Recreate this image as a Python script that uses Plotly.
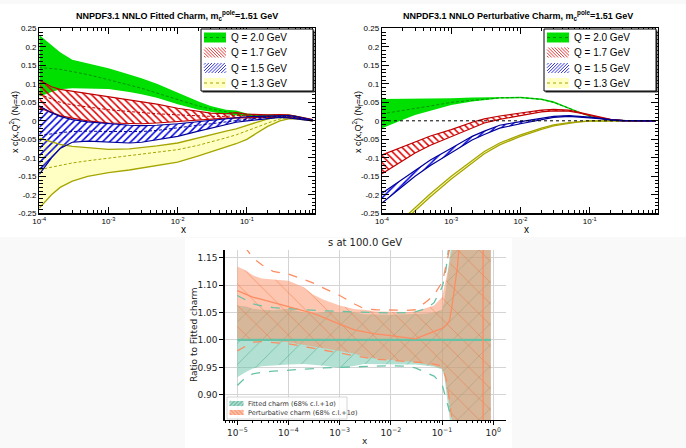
import plotly.graph_objects as go

W, H = 686, 448

# ---------------- data: top panels (x c(x,Q^2)) ----------------
X_TOP = [1e-4, 1.5e-4, 2e-4, 3e-4, 5e-4, 1e-3, 2e-3, 3e-3, 5e-3, 1e-2, 2e-2, 3e-2,
         5e-2, 7e-2, 0.1, 0.15, 0.2, 0.3, 0.4, 0.5, 0.7, 0.9]

# Fitted charm
FIT_20_HI = [0.232, 0.205, 0.185, 0.165, 0.155, 0.142, 0.125, 0.115, 0.100, 0.075, 0.052, 0.040,
             0.030, 0.028, 0.020, 0.017, 0.017, 0.018, 0.017, 0.014, 0.008, 0.004]
FIT_20_MID = [0.144, 0.142, 0.139, 0.133, 0.125, 0.111, 0.097, 0.088, 0.075, 0.057, 0.040, 0.032,
              0.024, 0.020, 0.016, 0.013, 0.013, 0.014, 0.013, 0.010, 0.005, 0.002]
FIT_20_LO = [0.066, 0.078, 0.085, 0.088, 0.088, 0.086, 0.078, 0.072, 0.062, 0.045, 0.030, 0.024,
             0.018, 0.014, 0.012, 0.010, 0.010, 0.011, 0.010, 0.008, 0.003, 0.000]

FIT_17_HI = [0.110, 0.092, 0.085, 0.080, 0.075, 0.066, 0.058, 0.053, 0.045, 0.034, 0.025, 0.021,
             0.019, 0.022, 0.018, 0.016, 0.016, 0.017, 0.016, 0.013, 0.007, 0.003]
FIT_17_MID = [0.072, 0.058, 0.050, 0.043, 0.037, 0.030, 0.025, 0.022, 0.019, 0.016, 0.013, 0.012,
              0.012, 0.014, 0.013, 0.012, 0.012, 0.013, 0.012, 0.010, 0.005, 0.002]
FIT_17_LO = [0.035, 0.022, 0.014, 0.007, 0.000, -0.006, -0.008, -0.008, -0.006, -0.002, 0.003, 0.005,
             0.007, 0.008, 0.009, 0.009, 0.009, 0.010, 0.009, 0.007, 0.003, 0.000]

FIT_15_HI = [0.040, 0.022, 0.012, 0.003, -0.003, -0.008, -0.012, -0.013, -0.012, -0.008, -0.002, 0.002,
             0.006, 0.009, 0.011, 0.012, 0.013, 0.015, 0.014, 0.012, 0.006, 0.002]
FIT_15_MID = [-0.040, -0.035, -0.032, -0.029, -0.028, -0.029, -0.030, -0.029, -0.026, -0.020, -0.012, -0.008,
              -0.003, 0.002, 0.005, 0.008, 0.010, 0.012, 0.011, 0.009, 0.004, 0.001]
FIT_15_LO = [-0.145, -0.100, -0.075, -0.058, -0.055, -0.058, -0.060, -0.058, -0.052, -0.042, -0.028, -0.020,
             -0.010, -0.004, 0.000, 0.004, 0.006, 0.009, 0.008, 0.006, 0.002, 0.000]

FIT_13_HI = [-0.047, -0.058, -0.064, -0.069, -0.073, -0.077, -0.076, -0.073, -0.068, -0.060, -0.046, -0.037,
             -0.028, -0.022, -0.012, -0.002, 0.005, 0.012, 0.014, 0.012, 0.006, 0.002]
FIT_13_MID = [-0.132, -0.125, -0.120, -0.114, -0.108, -0.101, -0.095, -0.091, -0.086, -0.078, -0.066, -0.058,
              -0.046, -0.038, -0.028, -0.015, -0.006, 0.005, 0.009, 0.008, 0.004, 0.001]
FIT_13_LO = [-0.236, -0.200, -0.180, -0.163, -0.150, -0.140, -0.133, -0.128, -0.122, -0.112, -0.095, -0.085,
             -0.072, -0.062, -0.050, -0.030, -0.015, 0.000, 0.005, 0.005, 0.002, 0.000]

# Perturbative charm
PT_20_HI = [0.059, 0.059, 0.059, 0.059, 0.060, 0.061, 0.063, 0.064, 0.065, 0.065, 0.060, 0.053,
            0.036, 0.025, 0.013, 0.006, 0.003, 0.001, 0.000, 0.000, 0.000, 0.000]
PT_20_MID = [0.019, 0.024, 0.028, 0.032, 0.040, 0.050, 0.056, 0.059, 0.062, 0.063, 0.058, 0.050,
             0.034, 0.023, 0.012, 0.005, 0.003, 0.001, 0.000, 0.000, 0.000, 0.000]
PT_20_LO = [-0.020, -0.007, 0.003, 0.016, 0.028, 0.043, 0.052, 0.056, 0.060, 0.061, 0.056, 0.048,
            0.032, 0.022, 0.011, 0.005, 0.002, 0.000, 0.000, 0.000, 0.000, 0.000]

PT_17_HI = [-0.092, -0.079, -0.069, -0.056, -0.041, -0.024, -0.004, 0.005, 0.013, 0.021, 0.029, 0.031,
            0.029, 0.023, 0.016, 0.008, 0.004, 0.001, 0.000, 0.000, 0.000, 0.000]
PT_17_LO = [-0.143, -0.122, -0.108, -0.087, -0.066, -0.042, -0.018, -0.006, 0.004, 0.014, 0.024, 0.027,
            0.026, 0.021, 0.014, 0.007, 0.003, 0.000, 0.000, 0.000, 0.000, 0.000]

PT_15_HI = [-0.196, -0.173, -0.156, -0.133, -0.106, -0.074, -0.042, -0.028, -0.012, -0.002, 0.008, 0.012,
            0.014, 0.013, 0.010, 0.006, 0.003, 0.001, 0.000, 0.000, 0.000, 0.000]
PT_15_LO = [-0.222, -0.195, -0.177, -0.150, -0.121, -0.087, -0.052, -0.037, -0.020, -0.008, 0.004, 0.009,
            0.012, 0.011, 0.008, 0.005, 0.002, 0.000, 0.000, 0.000, 0.000, 0.000]

PT_13_HI = [-0.317, -0.287, -0.266, -0.237, -0.197, -0.150, -0.108, -0.083, -0.060, -0.038, -0.020, -0.011,
            -0.005, -0.002, 0.000, 0.000, 0.000, 0.000, 0.000, 0.000, 0.000, 0.000]
PT_13_LO = [-0.325, -0.295, -0.274, -0.245, -0.205, -0.157, -0.114, -0.089, -0.065, -0.042, -0.023, -0.014,
            -0.007, -0.003, -0.001, 0.000, 0.000, 0.000, 0.000, 0.000, 0.000, 0.000]

TOP_YTICKS = [-0.25, -0.2, -0.15, -0.1, -0.05, 0, 0.05, 0.1, 0.15, 0.2, 0.25]
TOP_YTICK_LABELS = ["-0.25", "-0.2", "-0.15", "-0.1", "-0.05", "0", "0.05", "0.1", "0.15", "0.2", "0.25"]
TOP_XTICKS = [1e-4, 1e-3, 1e-2, 1e-1]
TOP_XTICK_LABELS = ["10<sup>-4</sup>", "10<sup>-3</sup>", "10<sup>-2</sup>", "10<sup>-1</sup>"]
LEGEND_TOP = ["Q = 2.0 GeV", "Q = 1.7 GeV", "Q = 1.5 GeV", "Q = 1.3 GeV"]

# ---------------- data: bottom panel (ratio to fitted charm) ----------------
X_R = [1e-5, 1.5e-5, 2e-5, 3e-5, 5e-5, 1e-4, 2e-4, 3e-4, 5e-4, 1e-3, 2e-3, 3e-3, 5e-3, 1e-2,
       2e-2, 3e-2, 5e-2, 7e-2, 0.1, 0.11, 0.12, 0.14, 0.16, 0.2, 0.25, 0.3, 0.4, 0.5, 0.6, 0.7, 0.8, 0.9]

FC_HI = [1.063, 1.061, 1.057, 1.055, 1.054, 1.057, 1.050, 1.048, 1.051, 1.051, 1.050, 1.047, 1.046, 1.046,
         1.047, 1.047, 1.048, 1.050, 1.055, 1.070, 1.095, 1.150, 1.200, 1.30, 1.40, 1.50, 1.6, 1.6, 1.6, 1.6, 1.6, 1.6]
FC_LO = [0.932, 0.942, 0.948, 0.952, 0.954, 0.955, 0.956, 0.955, 0.953, 0.949, 0.953, 0.956, 0.956, 0.955,
         0.955, 0.955, 0.953, 0.951, 0.946, 0.935, 0.910, 0.860, 0.800, 0.70, 0.60, 0.50, 0.4, 0.4, 0.4, 0.4, 0.4, 0.4]
FC_MID = [1.0] * len(X_R)
FC_SIG_HI = [1.081, 1.072, 1.066, 1.062, 1.059, 1.057, 1.055, 1.054, 1.053, 1.052, 1.051, 1.050, 1.049, 1.049,
             1.050, 1.051, 1.058, 1.068, 1.096, 1.110, 1.130, 1.170, 1.210, 1.30, 1.40, 1.50, 1.6, 1.6, 1.6, 1.6, 1.6, 1.6]
FC_SIG_LO = [0.917, 0.933, 0.938, 0.941, 0.943, 0.945, 0.947, 0.948, 0.949, 0.950, 0.951, 0.952, 0.953, 0.953,
             0.952, 0.949, 0.940, 0.934, 0.919, 0.905, 0.895, 0.870, 0.846, 0.75, 0.65, 0.55, 0.4, 0.4, 0.4, 0.4, 0.4, 0.4]

PC_HI = [1.134, 1.126, 1.118, 1.112, 1.110, 1.108, 1.096, 1.083, 1.073, 1.063, 1.056, 1.055, 1.052, 1.051,
         1.051, 1.052, 1.058, 1.063, 1.078, 1.095, 1.110, 1.140, 1.170, 1.25, 1.35, 1.45, 1.6, 1.6, 1.6, 1.6, 1.6, 1.6]
PC_LO = [1.003, 1.001, 1.000, 0.999, 0.998, 0.996, 0.992, 0.989, 0.985, 0.980, 0.975, 0.969, 0.966, 0.963,
         0.961, 0.960, 0.955, 0.953, 0.948, 0.940, 0.925, 0.885, 0.850, 0.78, 0.70, 0.60, 0.4, 0.4, 0.4, 0.4, 0.4, 0.4]
PC_SIG_HI = [1.200, 1.166, 1.150, 1.137, 1.125, 1.120, 1.110, 1.104, 1.094, 1.081, 1.065, 1.057, 1.055, 1.054,
             1.054, 1.055, 1.070, 1.082, 1.105, 1.120, 1.135, 1.165, 1.200, 1.30, 1.40, 1.50, 1.6, 1.6, 1.6, 1.6, 1.6, 1.6]
PC_SIG_LO = [0.980, 0.990, 0.996, 0.997, 0.995, 0.993, 0.988, 0.985, 0.980, 0.975, 0.970, 0.968, 0.965, 0.963,
             0.961, 0.960, 0.958, 0.956, 0.952, 0.940, 0.930, 0.890, 0.855, 0.78, 0.70, 0.60, 0.4, 0.4, 0.4, 0.4, 0.4, 0.4]

X_PC = [1e-5, 1.5e-5, 2e-5, 3e-5, 5e-5, 1e-4, 2e-4, 3e-4, 5e-4, 1e-3, 2e-3, 3e-3, 5e-3, 1e-2, 2e-2, 3e-2,
        5e-2, 7e-2, 0.1, 0.12, 0.14, 0.16, 0.18, 0.2, 0.22, 0.3, 0.5, 0.63, 0.64, 0.9]
PC_MID = [1.090, 1.083, 1.078, 1.074, 1.068, 1.060, 1.053, 1.049, 1.040, 1.029, 1.018, 1.015, 1.011, 1.008,
          1.004, 1.002, 1.010, 1.016, 1.021, 1.027, 1.035, 1.068, 1.098, 1.133, 1.180, 1.40, 1.90, 2.50, -0.50, 0.50]

R_YTICKS = [0.90, 0.95, 1.00, 1.05, 1.10, 1.15]
R_XTICKS = [1e-5, 1e-4, 1e-3, 1e-2, 1e-1, 1]
R_XTICK_LABELS = ["10<sup>−5</sup>", "10<sup>−4</sup>", "10<sup>−3</sup>", "10<sup>−2</sup>",
                  "10<sup>−1</sup>", "10<sup>0</sup>"]
LEGEND_R = ["Fitted charm (68% c.l.+1σ)", "Perturbative charm (68% c.l.+1σ)"]

# ---------------- styles ----------------
GREEN, GREEN_D = "#00e000", "#008f00"
RED, RED_D = "#e00000", "#c00000"
BLUE, BLUE_D = "#0000e0", "#000099"
YEL, YEL_D = "#ffffc4", "#a5a500"
TEAL, ORANGE = "#66c2a5", "#fc8d62"
ROOT_FONT = "Liberation Sans"
MPL_FONT = "DejaVu Sans"

fig = go.Figure()


def band(x, lo, hi, xa, ya, fillcolor="rgba(0,0,0,0)", pattern=None):
    xs = list(x) + list(x)[::-1]
    ys = list(hi) + list(lo)[::-1]
    kw = {}
    if pattern is not None:
        kw["fillpattern"] = pattern
    fig.add_trace(go.Scatter(x=xs, y=ys, xaxis=xa, yaxis=ya, mode="lines", fill="toself",
                             fillcolor=fillcolor, line=dict(width=0), hoverinfo="skip",
                             showlegend=False, **kw))


def curve(x, y, xa, ya, color, width=1.1, dash="solid"):
    fig.add_trace(go.Scatter(x=x, y=y, xaxis=xa, yaxis=ya, mode="lines",
                             line=dict(color=color, width=width, dash=dash),
                             hoverinfo="skip", showlegend=False))


red_pat = dict(shape="\\", fgcolor=RED, size=5, solidity=0.3, fillmode="replace")
blue_pat = dict(shape="/", fgcolor=BLUE, size=5, solidity=0.3, fillmode="replace")
TOP_DASH = "3px,2px"

# --- top-left: fitted charm ---
xa, ya = "x", "y"
band(X_TOP, FIT_20_LO, FIT_20_HI, xa, ya, GREEN)
band(X_TOP, FIT_13_LO, FIT_13_HI, xa, ya, YEL)
band(X_TOP, FIT_17_LO, FIT_17_HI, xa, ya, pattern=red_pat)
band(X_TOP, FIT_15_LO, FIT_15_HI, xa, ya, pattern=blue_pat)
curve(X_TOP, FIT_20_MID, xa, ya, GREEN_D, 1, TOP_DASH)
for arr in (FIT_13_HI, FIT_13_LO):
    curve(X_TOP, arr, xa, ya, YEL_D, 1.3)
curve(X_TOP, FIT_13_MID, xa, ya, YEL_D, 1, TOP_DASH)
for arr in (FIT_17_HI, FIT_17_LO):
    curve(X_TOP, arr, xa, ya, RED_D, 1.2)
curve(X_TOP, FIT_17_MID, xa, ya, RED_D, 1, TOP_DASH)
for arr in (FIT_15_HI, FIT_15_LO):
    curve(X_TOP, arr, xa, ya, BLUE_D, 1.2)
curve(X_TOP, FIT_15_MID, xa, ya, BLUE_D, 1, TOP_DASH)

# --- top-right: perturbative charm ---
xa, ya = "x2", "y2"
band(X_TOP, PT_20_LO, PT_20_HI, xa, ya, GREEN)
band(X_TOP, PT_13_LO, PT_13_HI, xa, ya, YEL)
band(X_TOP, PT_17_LO, PT_17_HI, xa, ya, pattern=red_pat)
band(X_TOP, PT_15_LO, PT_15_HI, xa, ya, pattern=blue_pat)
curve(X_TOP, PT_20_MID, xa, ya, GREEN_D, 1, TOP_DASH)
for arr in (PT_13_HI, PT_13_LO):
    curve(X_TOP, arr, xa, ya, YEL_D, 1.3)
for arr in (PT_17_HI, PT_17_LO):
    curve(X_TOP, arr, xa, ya, RED_D, 1.2)
for arr in (PT_15_HI, PT_15_LO):
    curve(X_TOP, arr, xa, ya, BLUE_D, 1.2)

# --- bottom: ratio ---
xa, ya = "x3", "y3"
band(X_R, FC_LO, FC_HI, xa, ya, pattern=dict(shape="/", bgcolor="rgba(102,194,165,0.5)",
                                             fgcolor="#3d9c7e", fgopacity=0.5, size=15,
                                             solidity=0.06, fillmode="overlay"))
band(X_R, PC_LO, PC_HI, xa, ya, pattern=dict(shape="\\", bgcolor="rgba(252,141,98,0.5)",
                                             fgcolor="#f06a35", fgopacity=0.5, size=15,
                                             solidity=0.06, fillmode="overlay"))
curve(X_R, FC_MID, xa, ya, TEAL, 2.2)
curve(X_R, FC_SIG_HI, xa, ya, TEAL, 1.3, "dash")
curve(X_R, FC_SIG_LO, xa, ya, TEAL, 1.3, "dash")
curve(X_PC, PC_MID, xa, ya, ORANGE, 1.3)
curve(X_R, PC_SIG_HI, xa, ya, ORANGE, 1.3, "dash")
curve(X_R, PC_SIG_LO, xa, ya, ORANGE, 1.3, "dash")

# ---------------- layout ----------------
def dom_x(a, b):
    return [a / W, b / W]


def dom_y(top, bottom):
    return [1 - bottom / H, 1 - top / H]


root_x = dict(type="log", range=[-4, -0.015], tickmode="array", tickvals=TOP_XTICKS,
              ticktext=TOP_XTICK_LABELS, automargin=False,
              showline=True, linecolor="black", linewidth=1.2, mirror="ticks",
              ticks="inside", ticklen=6, tickcolor="black", tickwidth=1,
              minor=dict(dtick="D1", ticks="inside", ticklen=3, tickcolor="black"),
              showgrid=False, zeroline=False,
              tickfont=dict(family=ROOT_FONT, size=8, color="black"))
root_y = dict(range=[-0.25, 0.25], tickmode="array", tickvals=TOP_YTICKS, ticktext=TOP_YTICK_LABELS,
              automargin=False,
              showline=True, linecolor="black", linewidth=1.2, mirror="ticks",
              ticks="inside", ticklen=7, tickcolor="black", tickwidth=1,
              minor=dict(tickmode="linear", tick0=0, dtick=0.01, ticks="inside", ticklen=3.5,
                         tickcolor="black"),
              showgrid=False, zeroline=False,
              tickfont=dict(family=ROOT_FONT, size=8, color="black"))

fig.update_layout(
    width=W, height=H, margin=dict(l=0, r=0, t=0, b=0, pad=0, autoexpand=False),
    paper_bgcolor="#f9f9f9", plot_bgcolor="rgba(0,0,0,0)", showlegend=False,
    xaxis=dict(root_x, domain=dom_x(39.3, 315), anchor="y"),
    yaxis=dict(root_y, domain=dom_y(28.3, 213.3), anchor="x"),
    xaxis2=dict(root_x, domain=dom_x(382, 658), anchor="y2"),
    yaxis2=dict(root_y, domain=dom_y(28.3, 213.3), anchor="x2"),
    xaxis3=dict(type="log", range=[-5.25, 0.25], tickmode="array", tickvals=R_XTICKS,
                ticktext=R_XTICK_LABELS, automargin=False,
                domain=dom_x(224.5, 506), anchor="y3",
                showline=True, linecolor="black", linewidth=1.2, mirror=False,
                ticks="outside", ticklen=4, tickcolor="black",
                minor=dict(dtick="D1", ticks="outside", ticklen=2, tickcolor="black", showgrid=False),
                showgrid=True, gridcolor="#d4d4d4", gridwidth=1, zeroline=False,
                tickfont=dict(family=MPL_FONT, size=9, color="#222")),
    yaxis3=dict(range=[0.854, 1.164], tickmode="array", tickvals=R_YTICKS,
                ticktext=[f"{v:.2f}" for v in R_YTICKS], automargin=False,
                domain=dom_y(250, 420), anchor="x3",
                showline=True, linecolor="black", linewidth=1.2, mirror=False,
                ticks="outside", ticklen=4, tickcolor="black",
                showgrid=True, gridcolor="#d4d4d4", gridwidth=1, zeroline=False,
                tickfont=dict(family=MPL_FONT, size=9, color="#222")),
)

shapes = []
annotations = []


def P(x, y):
    return x / W, 1 - y / H


def prect(x0, y0, x1, y1, **kw):
    a, b = P(x0, y0)
    c, d = P(x1, y1)
    shapes.append(dict(type="rect", xref="paper", yref="paper", x0=a, y0=b, x1=c, y1=d, **kw))


def pline(x0, y0, x1, y1, **kw):
    a, b = P(x0, y0)
    c, d = P(x1, y1)
    shapes.append(dict(type="line", xref="paper", yref="paper", x0=a, y0=b, x1=c, y1=d, **kw))


def hatch(x0, y0, x1, y1, spacing, direction, color, width=0.8):
    w, h = x1 - x0, y1 - y0
    parts = []
    c = -h + spacing / 2
    while c < w:
        us, ue = max(0, c), min(w, c + h)
        if ue > us:
            p1, p2 = (us, us - c), (ue, ue - c)
            if direction == "/":
                p1, p2 = (w - p1[0], p1[1]), (w - p2[0], p2[1])
            a = P(x0 + p1[0], y0 + p1[1])
            b = P(x0 + p2[0], y0 + p2[1])
            parts.append(f"M{a[0]:.5f},{a[1]:.5f} L{b[0]:.5f},{b[1]:.5f}")
        c += spacing
    shapes.append(dict(type="path", xref="paper", yref="paper", path=" ".join(parts),
                       line=dict(color=color, width=width)))


def ptext(x, y, text, size, family, color="black", xanchor="center", yanchor="middle", angle=0):
    a, b = P(x, y)
    annotations.append(dict(xref="paper", yref="paper", x=a, y=b, text=text, showarrow=False,
                            xanchor=xanchor, yanchor=yanchor, textangle=angle,
                            font=dict(family=family, size=size, color=color)))


# white panels
prect(0, 4, 686, 237, fillcolor="white", line=dict(width=0), layer="below")
prect(185, 238, 512, 448, fillcolor="white", line=dict(width=0), layer="below")

# zero line in perturbative panel
shapes.append(dict(type="line", xref="x2 domain", yref="y2", x0=0, x1=1, y0=0, y1=0,
                   line=dict(color="black", width=1, dash="dot")))

# top panel texts and legends
TITLES = ["<b>NNPDF3.1 NNLO Fitted Charm, m<sub>c</sub><sup>pole</sup>=1.51 GeV</b>",
          "<b>NNPDF3.1 NNLO Perturbative Charm, m<sub>c</sub><sup>pole</sup>=1.51 GeV</b>"]
for k, off in enumerate((0, 343)):
    ptext(177 + off + (0 if k == 0 else -2), 16, TITLES[k], 9, ROOT_FONT)
    ptext(14 + off, 122, "x c(x,Q<sup>2</sup>) (N<sub>f</sub>=4)", 9, ROOT_FONT, angle=-90)
    ptext(183 + off, 229, "x", 10, ROOT_FONT)
    # legend box
    prect(202.5 + off, 30.5, 314.5 + off, 92.5, fillcolor="#333", line=dict(width=0))
    prect(201 + off, 29, 313 + off, 91, fillcolor="white", line=dict(color="black", width=1))
    ys = [37.5, 52.5, 68, 83]
    sx0, sx1 = 204 + off, 226 + off
    for i, yc in enumerate(ys):
        y0, y1 = yc - 5, yc + 5
        if i == 0:
            prect(sx0, y0, sx1, y1, fillcolor=GREEN, line=dict(width=0))
            pline(sx0, yc, sx1, yc, line=dict(color=GREEN_D, width=1, dash="dot"))
        elif i == 1:
            hatch(sx0, y0, sx1, y1, 3.2, "\\", RED)
        elif i == 2:
            hatch(sx0, y0, sx1, y1, 3.2, "/", BLUE)
        else:
            prect(sx0, y0, sx1, y1, fillcolor=YEL, line=dict(width=0))
            pline(sx0, yc, sx1, yc, line=dict(color=YEL_D, width=1, dash="dot"))
        ptext(228.5 + off, yc, LEGEND_TOP[i], 10, ROOT_FONT, xanchor="left")

# bottom texts and legend
ptext(365, 242, "s at 100.0 GeV", 10, MPL_FONT, color="#222")
ptext(194, 335, "Ratio to Fitted charm", 9, MPL_FONT, color="#222", angle=-90)
ptext(365, 441, "x", 9, MPL_FONT, color="#222")
prect(227, 397, 347, 419, fillcolor="rgba(255,255,255,0.8)", line=dict(color="#cccccc", width=0.8))
for i, (yc, col, hcol, d) in enumerate([(403.5, "rgba(102,194,165,0.6)", "#2e8a6c", "/"),
                                         (412.5, "rgba(252,141,98,0.6)", "#f06a35", "\\")]):
    prect(229.5, yc - 2.5, 243.5, yc + 2.5, fillcolor=col, line=dict(width=0))
    hatch(229.5, yc - 2.5, 243.5, yc + 2.5, 4, d, hcol, 0.6)
    ptext(246, yc, LEGEND_R[i], 6.5, MPL_FONT, color="#333", xanchor="left")

fig.update_layout(shapes=shapes, annotations=annotations)
fig.write_html("out.html", config={"displayModeBar": False, "staticPlot": True},
               post_script="document.body.style.margin='0';document.body.style.padding='0';"
                           "document.body.style.overflow='hidden';")
